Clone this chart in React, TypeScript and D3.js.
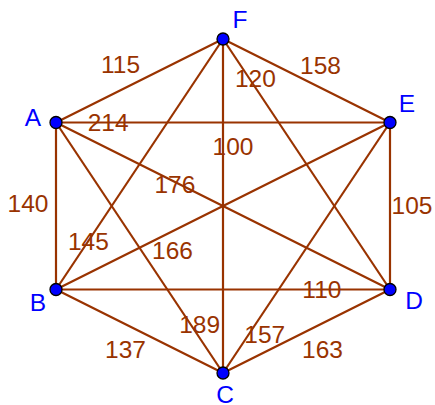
import React from "react";
import * as d3 from "d3";

const width = 435;
const height = 405;

// graph layout in unit coordinates (hexagon)
const vertexNames = ["A", "B", "C", "D", "E", "F"];
const vertexX = [-1, -1, 0, 1, 1, 0];
const vertexY = [-0.5, 0.5, 1, 0.5, -0.5, -1];

const edgeFrom = ["A", "A", "A", "A", "A", "F", "F", "F", "F", "E", "E", "E", "B", "B", "C"];
const edgeTo = ["F", "E", "D", "B", "C", "E", "D", "C", "B", "D", "B", "C", "D", "C", "D"];
const edgeWeights = [115, 214, 176, 140, 189, 158, 120, 100, 145, 105, 166, 157, 110, 137, 163];

// where each weight label sits: fraction along edge, then pixel nudge
const labelT = [0.5, 0.156, 0.356, 0.5, 0.806, 0.5, 0.158, 0.32, 0.806, 0.5, 0.708, 0.846, 0.796, 0.5, 0.5];
const labelDx = [-19, 0, 0, -28, 9, 14, 6, 10, 0, 22, 19, 16, 0, -14, 16];
const labelDy = [-17, 0, 2, -3, 0, -16, 0, 0, 0, -1, 9, 0, 0, 18, 18];

const nameDx = [-23, -18, 2, 24, 17, 17];
const nameDy = [-5, 13, 21, 11, -19, -20];

const brown = "rgb(153,51,0)";
const fontSize = 24.5;

const x = d3.scaleLinear().domain([-1, 1]).range([56, 390]);
const y = d3.scaleLinear().domain([-1, 1]).range([39, 373]);

export default function App() {
  const pos = new Map<string, [number, number]>();
  vertexNames.forEach((n, i) => pos.set(n, [x(vertexX[i]), y(vertexY[i])]));

  const edges = edgeWeights.map((w, i) => {
    const [x1, y1] = pos.get(edgeFrom[i])!;
    const [x2, y2] = pos.get(edgeTo[i])!;
    const t = labelT[i];
    return {
      x1, y1, x2, y2, w,
      lx: x1 + (x2 - x1) * t + labelDx[i],
      ly: y1 + (y2 - y1) * t + labelDy[i],
    };
  });

  return (
    <svg width={width} height={height} style={{ position: "absolute", left: 0, top: 0 }}
      fontFamily="'Liberation Sans', Arial, sans-serif">
      <rect width={width} height={height} fill="white" />
      {edges.map((e, i) => (
        <line key={"e" + i} x1={e.x1} y1={e.y1} x2={e.x2} y2={e.y2} stroke={brown} strokeWidth={2.2} />
      ))}
      {edges.map((e, i) => (
        <text key={"l" + i} x={e.lx} y={e.ly + fontSize * 0.358} textAnchor="middle"
          fontSize={fontSize} fill={brown}>{e.w}</text>
      ))}
      {vertexNames.map((n, i) => {
        const [cx, cy] = pos.get(n)!;
        return (
          <g key={n}>
            <circle cx={cx} cy={cy} r={6} fill="#0000ff" stroke="black" strokeWidth={1.3} />
            <text x={cx + nameDx[i]} y={cy + nameDy[i] + fontSize * 0.358} textAnchor="middle"
              fontSize={fontSize} fill="#0000ff">{n}</text>
          </g>
        );
      })}
    </svg>
  );
}
